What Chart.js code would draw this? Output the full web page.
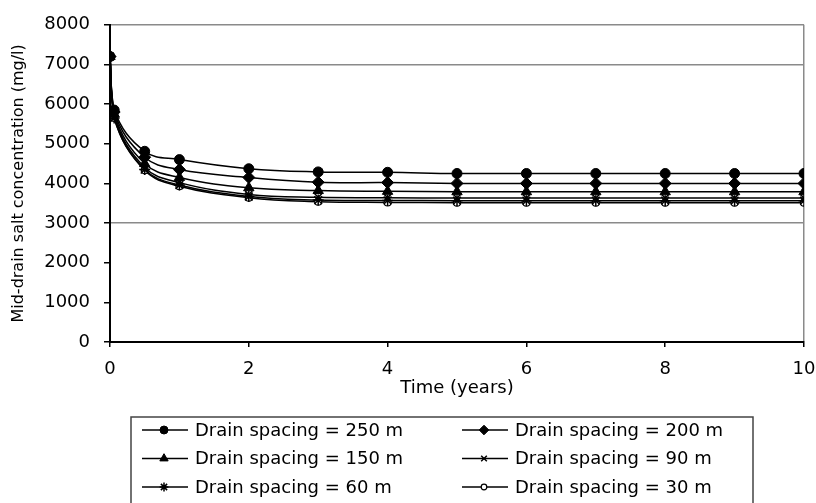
<!DOCTYPE html>
<html>
<head>
<meta charset="utf-8">
<script src="https://cdn.jsdelivr.net/npm/chart.js@4"></script>
<style>
  html, body { margin: 0; padding: 0; background: #fff; }
  #wrap { width: 816px; height: 503px; }
</style>
</head>
<body>
<div id="wrap"><canvas id="myChart"></canvas></div>
<script>
// time in years
var years = [0, 0.06, 0.5, 1, 2, 3, 4, 5, 6, 7, 8, 9, 10]

// mid-drain salt concentration (mg/l) per drain spacing
var spacing250 = [7200, 5850, 4810, 4600, 4370, 4290, 4280, 4250, 4250, 4250, 4250, 4250, 4250]
var spacing200 = [7200, 5800, 4660, 4350, 4150, 4030, 4020, 4000, 4000, 4000, 4000, 4000, 4000]
var spacing150 = [7200, 5750, 4500, 4150, 3890, 3820, 3800, 3790, 3790, 3790, 3790, 3790, 3790]
var spacing90 = [7200, 5700, 4400, 4020, 3720, 3650, 3640, 3630, 3630, 3630, 3630, 3630, 3630]
var spacing60 = [7200, 5650, 4350, 3960, 3670, 3580, 3570, 3565, 3565, 3565, 3565, 3565, 3565]
var spacing30 = [7200, 5650, 4330, 3930, 3640, 3540, 3520, 3515, 3515, 3515, 3515, 3515, 3515]

var seriesLabels = [
  'Drain spacing = 250 m', 'Drain spacing = 200 m', 'Drain spacing = 150 m',
  'Drain spacing = 90 m', 'Drain spacing = 60 m', 'Drain spacing = 30 m'
]

const gridColor = '#8a8a8a'

function points(values) {
  return years.map(function(t, i) { return { x: t, y: values[i] } })
}

function series(label, values, style, radius, fill, borderWidth) {
  return {
    label: label,
    data: points(values),
    borderColor: '#000',
    borderWidth: 1.5,
    fill: false,
    tension: 0.4,
    pointStyle: style,
    pointRadius: radius,
    pointHoverRadius: radius,
    pointBackgroundColor: fill,
    pointBorderColor: '#000',
    pointBorderWidth: borderWidth
  }
}

// box legend in two columns, like the original
var boxLegend = {
  id: 'boxLegend',
  afterDraw: function(chart) {
    var ctx = chart.ctx
    var left = 131, top = 417, right = 753
    ctx.save()
    ctx.strokeStyle = '#444'
    ctx.lineWidth = 1.5
    ctx.beginPath()
    ctx.moveTo(left, 520)
    ctx.lineTo(left, top)
    ctx.lineTo(right, top)
    ctx.lineTo(right, 520)
    ctx.stroke()

    var colX = [142, 462]
    var rowY = [430, 458.5, 487]
    ctx.font = '18px "DejaVu Sans"'
    ctx.textBaseline = 'middle'
    ctx.textAlign = 'left'
    chart.data.datasets.forEach(function(ds, i) {
      var x = colX[i % 2]
      var y = rowY[Math.floor(i / 2)]
      ctx.strokeStyle = '#000'
      ctx.lineWidth = 1.5
      ctx.beginPath()
      ctx.moveTo(x, y)
      ctx.lineTo(x + 46, y)
      ctx.stroke()
      ctx.fillStyle = ds.pointBackgroundColor
      ctx.strokeStyle = ds.pointBorderColor
      ctx.lineWidth = ds.pointBorderWidth
      Chart.helpers.drawPoint(ctx, {
        pointStyle: ds.pointStyle,
        radius: ds.pointRadius * 0.8,
        rotation: 0,
        borderWidth: ds.pointBorderWidth
      }, x + 22, y)
      ctx.fillStyle = '#000'
      ctx.fillText(ds.label, x + 53, y + 1)
    })
    ctx.restore()
  }
}

Chart.defaults.font.family = '"DejaVu Sans"'
Chart.defaults.color = '#000'

var ctx1 = document.getElementById('myChart')

var lineChart1 = new Chart(ctx1, {
  type: 'line',
  data: {
    datasets: [
      series(seriesLabels[0], spacing250, 'circle', 5, '#000', 1),
      series(seriesLabels[1], spacing200, 'rectRot', 6, '#000', 1),
      series(seriesLabels[2], spacing150, 'triangle', 6, '#000', 1),
      series(seriesLabels[3], spacing90, 'crossRot', 5, '#000', 1.5),
      series(seriesLabels[4], spacing60, 'star', 5.5, '#000', 1.5),
      series(seriesLabels[5], spacing30, 'circle', 3.5, '#fff', 1.2)
    ]
  },
  options: {
    responsive: true,
    maintainAspectRatio: false,
    animation: false,
    layout: { padding: { top: 23, bottom: 101, left: 0, right: 0 } },
    plugins: {
      legend: { display: false },
      tooltip: { enabled: false }
    },
    scales: {
      x: {
        type: 'linear',
        min: 0,
        max: 10,
        ticks: { stepSize: 2, padding: 11.5, font: { size: 18 } },
        grid: {
          color: function(c) { return c.tick && c.tick.value === 10 ? gridColor : 'rgba(0,0,0,0)' },
          tickColor: '#000',
          tickLength: 5,
          lineWidth: 1.5,
          tickWidth: 1.5
        },
        border: { color: '#000', width: 2 },
        title: { display: true, text: 'Time (years)', font: { size: 18 }, padding: { top: 0, bottom: 3 } },
        afterFit: function(scale) {
          scale.height = 60
          scale.paddingRight = 12
        }
      },
      y: {
        min: 0,
        max: 8000,
        ticks: {
          stepSize: 1000,
          padding: 14,
          font: { size: 18 },
          callback: function(value) { return String(value) }
        },
        grid: {
          color: function(c) {
            var v = c.tick && c.tick.value
            return (v === 8000 || v === 7000 || v === 3000) ? gridColor : 'rgba(0,0,0,0)'
          },
          tickColor: '#000',
          tickLength: 6,
          lineWidth: 1.5,
          tickWidth: 1.5
        },
        border: { color: '#000', width: 2 },
        title: { display: true, text: 'Mid-drain salt concentration (mg/l)', font: { size: 16 }, padding: { top: 9, bottom: 0 } },
        afterFit: function(scale) { scale.width = 110 }
      }
    }
  },
  plugins: [boxLegend]
});
</script>
</body>
</html>
